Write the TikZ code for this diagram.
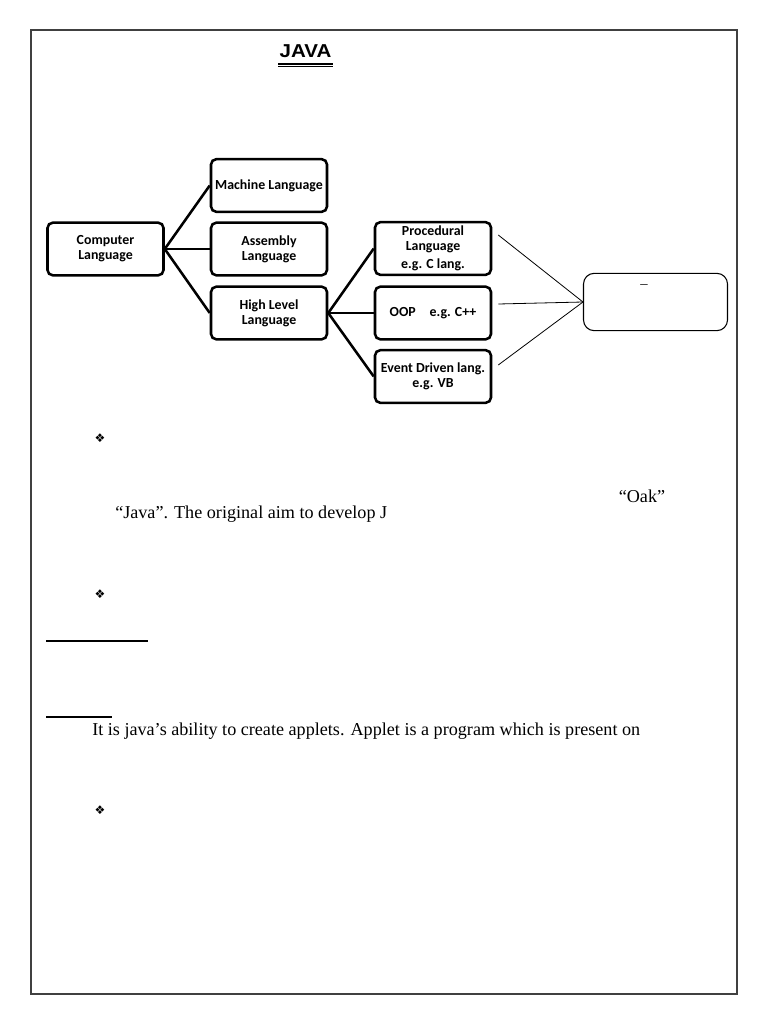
\documentclass[tikz,border=0pt]{standalone}
\usepackage{fontspec}
\setmainfont{Liberation Serif}
\newfontfamily\boxfont{Carlito}
\newfontfamily\headfont{Liberation Sans}
\newfontfamily\symfont{DejaVu Sans}
\usepackage{tikz}
\usetikzlibrary{calc}

\begin{document}
\begin{tikzpicture}[x=0.75pt,y=-0.75pt,
    langbox/.style={draw,line width=1.9pt,rounded corners=4pt,minimum width=87pt,minimum height=39.5pt,
        inner sep=1pt,align=center,font=\boxfont\bfseries\fontsize{10.4}{11.4}\selectfont},
    endbox/.style={draw,line width=0.8pt,rounded corners=8pt,minimum width=108pt,minimum height=43pt},
    link/.style={line width=1.9pt},
    thinlink/.style={line width=0.6pt},
    bodytext/.style={font=\fontsize{13.6}{15}\selectfont,inner sep=0pt},
    bullet/.style={font=\symfont\fontsize{9}{10}\selectfont,inner sep=0pt}]
    \useasboundingbox (0,0) rectangle (768,1024);
    \draw[line width=0.9pt,black!75] (31,30) rectangle (737,994);

    \node[font=\headfont\bfseries\fontsize{14}{15}\selectfont] (title) at (305.5,51) {\scalebox{1.1}[1]{JAVA}};
    \draw[line width=0.8pt] (278,64) -- (333,64);
    \draw[line width=0.8pt] (278,66.5) -- (333,66.5);

    \node[langbox] (cl) at (105.5,249) {Computer\\Language};
    \node[langbox] (ml) at (269,185.5) {Machine Language};
    \node[langbox] (al) at (269,249) {Assembly\\Language};
    \node[langbox] (hl) at (269,313) {High Level\\Language};
    \node[langbox] (pl) at (433,248.5) {Procedural\\Language\\[2pt]e.g. C lang.};
    \node[langbox] (oop) at (433,313) {OOP\quad e.g. C++};
    \node[langbox] (ev) at (433,376.5) {Event Driven lang.\\e.g. VB};
    \node[endbox] (rb) at (655.5,302) {};
    \node[font=\fontsize{11}{12}\selectfont] (dash) at (644,287) {--};

    \draw[link] (cl.east) -- (ml.west);
    \draw[link] (cl.east) -- (al.west);
    \draw[link] (cl.east) -- (hl.west);
    \draw[link] (hl.east) -- (pl.west);
    \draw[link] (hl.east) -- (oop.west);
    \draw[link] (hl.east) -- (ev.west);

    \draw[thinlink] ($(pl.east)+(6,-13.5)$) -- (rb.west);
    \draw[thinlink] ($(oop.east)+(6,-9)$) -- (rb.west);
    \draw[thinlink] ($(ev.east)+(6,-11.5)$) -- (rb.west);

    \node[bullet] (b1) at (100,438) {❖};
    \node[bodytext] (oak) at (642,496) {“Oak”};
    \node[bodytext,anchor=west] (aim) at (115,514) {“Java”. The original aim to develop J};
    \node[bullet] (b2) at (100,594) {❖};
    \draw[line width=1.2pt] (46,641) -- (148,641);
    \draw[line width=1.2pt] (46,717) -- (112,717);
    \node[bodytext,anchor=west] (applet) at (92,731) {It is java’s ability to create applets. Applet is a program which is present on};
    \node[bullet] (b3) at (100,810) {❖};
\end{tikzpicture}
\end{document}
